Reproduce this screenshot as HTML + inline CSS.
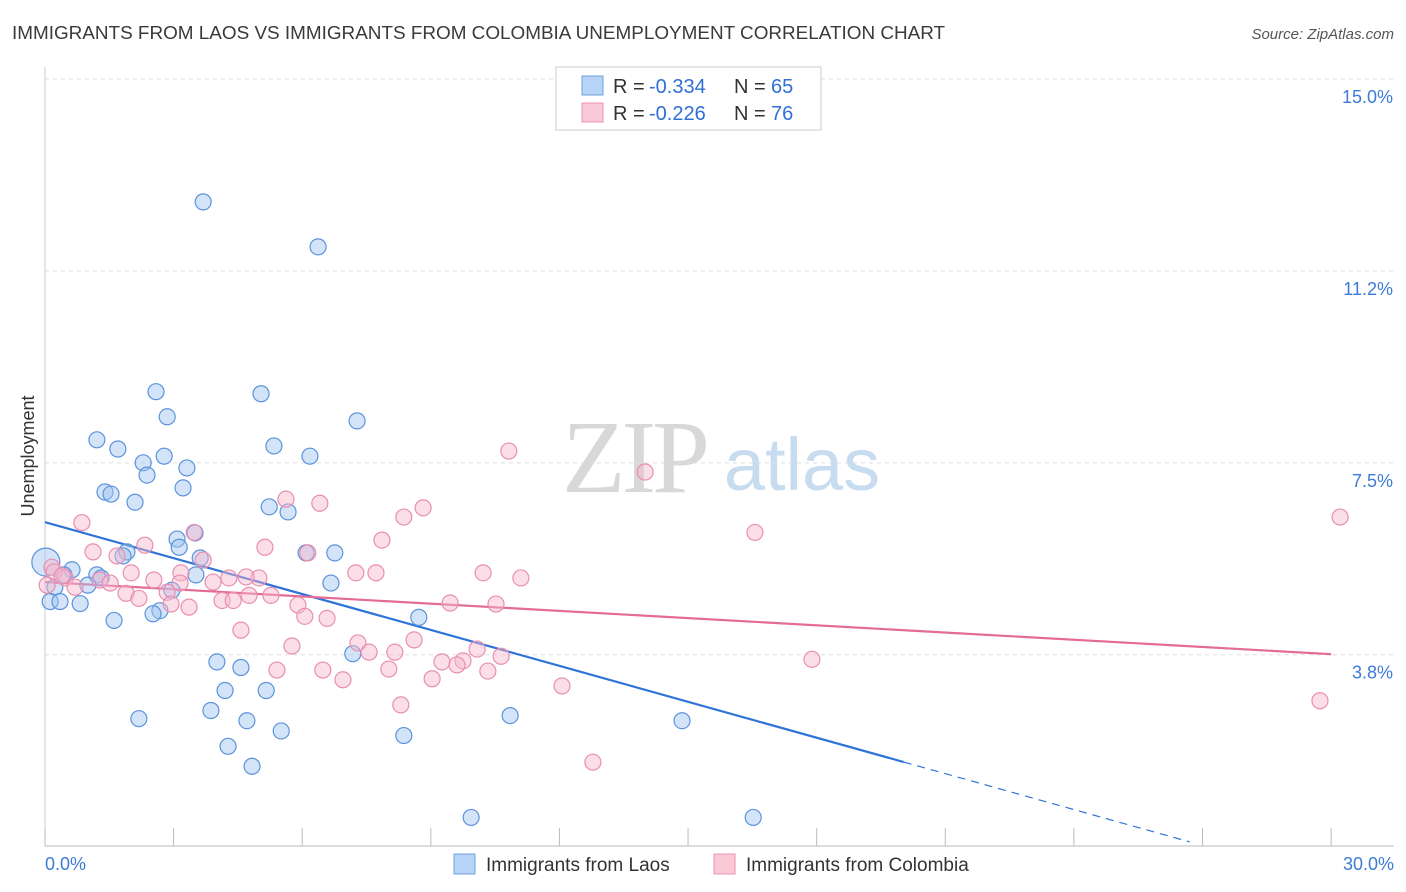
<!DOCTYPE html>
<html><head><meta charset="utf-8"><style>
body{margin:0;background:#fff;font-family:"Liberation Sans",sans-serif;}
</style></head><body>
<svg id="chart" width="1406" height="892" xmlns="http://www.w3.org/2000/svg" style="display:block">
<text x="12" y="39" font-size="18.9" fill="#3a3a3a">IMMIGRANTS FROM LAOS VS IMMIGRANTS FROM COLOMBIA UNEMPLOYMENT CORRELATION CHART</text>
<text x="1394" y="39" font-size="15" fill="#555" font-style="italic" text-anchor="end">Source: ZipAtlas.com</text>
<text transform="translate(34,456) rotate(-90)" font-size="18" fill="#333" text-anchor="middle">Unemployment</text>
<g><text x="634" y="492" font-size="104" fill="#d8d8d8" font-family="Liberation Serif,serif" text-anchor="middle" letter-spacing="-4">ZIP</text><text x="802" y="490" font-size="74" fill="#c8dcf0" text-anchor="middle">atlas</text></g>
<g id="grid"></g><g id="axes"></g><g id="lines"></g><g id="pts"></g>
<g>
<rect x="556" y="67" width="265" height="63" fill="#fff" stroke="#ccc"/>
<rect x="582" y="76" width="21" height="19" fill="#b7d3f5" stroke="#6ea0e0"/>
<rect x="582" y="103" width="21" height="19" fill="#f9c9d8" stroke="#ec90b0"/>
<text y="93" font-size="20" fill="#333"><tspan x="613">R =</tspan><tspan x="649" fill="#2f6fd6">-0.334</tspan><tspan x="734">N =</tspan><tspan x="771" fill="#2f6fd6">65</tspan></text>
<text y="120" font-size="20" fill="#333"><tspan x="613">R =</tspan><tspan x="649" fill="#2f6fd6">-0.226</tspan><tspan x="734">N =</tspan><tspan x="771" fill="#2f6fd6">76</tspan></text>
</g>
<g>
<rect x="454" y="854" width="21" height="20" fill="#b7d3f5" stroke="#6ea0e0"/>
<text x="486" y="871" font-size="19" fill="#333">Immigrants from Laos</text>
<rect x="714" y="854" width="21" height="20" fill="#f9c9d8" stroke="#ec90b0"/>
<text x="746" y="871" font-size="19" fill="#333">Immigrants from Colombia</text>
</g>
</svg>
<script>
const yTicks=[15.0,11.25,7.5,3.75];
const yTickLabels=["15.0%","11.2%","7.5%","3.8%"];
const xTicks=[0,3,6,9,12,15,18,21,24,27,30];
const laosX=[3.69,6.37,2.59,5.04,2.85,7.28,1.21,1.70,5.34,2.78,6.18,2.29,3.31,2.38,3.22,1.40,1.54,2.10,5.23,5.67,3.50,3.08,3.13,1.91,1.82,6.09,6.76,3.62,0.02,0.63,0.44,1.21,1.31,3.52,6.67,1.00,0.23,2.96,0.12,0.35,0.82,2.68,2.52,1.61,8.72,7.18,4.01,4.57,4.20,5.16,3.87,2.19,4.71,5.51,8.37,10.85,14.86,4.27,4.83,9.94,16.52];
const laosY=[12.60,11.72,8.89,8.85,8.40,8.32,7.95,7.77,7.83,7.63,7.63,7.50,7.40,7.26,7.01,6.93,6.89,6.73,6.64,6.54,6.13,6.01,5.85,5.76,5.68,5.74,5.74,5.64,5.56,5.41,5.31,5.31,5.25,5.31,5.15,5.11,5.07,5.01,4.79,4.79,4.75,4.61,4.55,4.42,4.48,3.77,3.61,3.50,3.05,3.05,2.66,2.50,2.46,2.26,2.17,2.56,2.46,1.96,1.57,0.57,0.57];
const colX=[10.82,14.00,0.86,5.62,6.41,8.82,8.37,30.21,16.56,3.48,7.86,2.33,5.13,1.12,6.13,1.68,3.69,0.16,2.01,2.54,3.17,7.25,7.72,10.22,11.10,4.29,4.99,4.69,3.92,1.28,1.52,0.47,0.70,3.15,2.85,1.89,2.19,4.76,5.27,4.13,4.39,2.94,3.36,5.90,9.45,10.52,6.06,6.58,4.57,8.61,5.76,7.30,7.56,8.16,10.08,9.26,9.75,9.61,10.64,17.89,5.41,6.48,8.02,10.33,9.03,6.95,12.06,8.30,29.74,12.78,0.21,0.40,0.05];
const colY=[7.73,7.32,6.33,6.79,6.71,6.62,6.44,6.44,6.14,6.14,5.99,5.89,5.85,5.76,5.74,5.68,5.60,5.46,5.35,5.21,5.35,5.35,5.35,5.35,5.25,5.25,5.25,5.27,5.17,5.21,5.15,5.25,5.07,5.15,4.97,4.95,4.85,4.91,4.91,4.81,4.81,4.74,4.68,4.72,4.76,4.74,4.50,4.46,4.23,4.04,3.92,3.98,3.80,3.80,3.86,3.61,3.63,3.55,3.72,3.66,3.45,3.45,3.47,3.43,3.28,3.26,3.14,2.77,2.85,1.65,5.37,5.29,5.11];
const laosTrend=[6.34,-0.234];
const colTrend=[5.17,-0.047];
const X=v=>45+v*42.87, Y=v=>846.6-v*51.17;
const NS="http://www.w3.org/2000/svg";
function mk(parent,tag,attrs){const e=document.createElementNS(NS,tag);for(const k in attrs)e.setAttribute(k,attrs[k]);document.getElementById(parent).appendChild(e);return e;}
yTicks.forEach((t,i)=>{
 const g=mk('grid','line',{x1:45,x2:1394,y1:Y(t),y2:Y(t),stroke:'#ddd','stroke-dasharray':'4,4'});
 
 
 const l=mk('axes','text',{x:1393,y:Y(t)+24,'font-size':18,fill:'#3d7bd6','text-anchor':'end'});l.textContent=yTickLabels[i];
 
 
});
const ax=mk('axes','line',{x1:45,x2:1394,y1:846,y2:846,stroke:'#bbb'});


const ay=mk('axes','line',{x1:45,x2:45,y1:67,y2:846,stroke:'#ccc'});


xTicks.forEach(t=>{const k=mk('axes','line',{x1:X(t),x2:X(t),y1:828,y2:846,stroke:'#bbb'});
 
 });
const x0=mk('axes','text',{x:45,y:870,'font-size':18,fill:'#3d7bd6'});x0.textContent='0.0%';


const x1=mk('axes','text',{x:1394,y:870,'font-size':18,fill:'#3d7bd6','text-anchor':'end'});x1.textContent='30.0%';


laosX.forEach((x,i)=>{const c=mk('pts','circle',{cx:X(x),cy:Y(laosY[i]),r:i==28?14:8,fill:'rgba(160,196,240,0.45)',stroke:'#5b93dc','stroke-width':1.2});
 
 });
colX.forEach((x,i)=>{const c=mk('pts','circle',{cx:X(x),cy:Y(colY[i]),r:8,fill:'rgba(246,182,204,0.45)',stroke:'#e88fb0','stroke-width':1.2});
 
 });
const f=(t,x)=>t[0]+t[1]*x;
const l1=mk('lines','line',{x1:X(0),y1:Y(f(laosTrend,0)),x2:X(20.03),y2:Y(f(laosTrend,20.03)),stroke:'#2f74d8','stroke-width':2.2});


const l2=mk('lines','line',{x1:X(20.03),y1:Y(f(laosTrend,20.03)),x2:X(26.7),y2:Y(f(laosTrend,26.7)),stroke:'#2f74d8','stroke-width':1.2,'stroke-dasharray':'8,6'});


const l3=mk('lines','line',{x1:X(0),y1:Y(f(colTrend,0)),x2:X(30),y2:Y(f(colTrend,30)),stroke:'#e46a98','stroke-width':2.2});


</script>
</body></html>
